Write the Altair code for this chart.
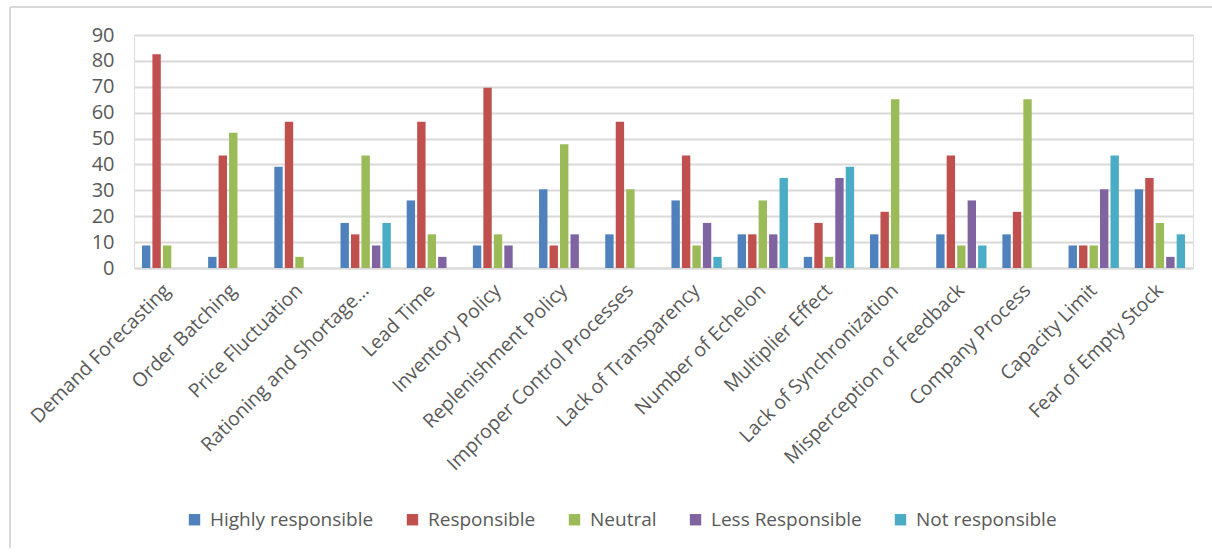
import altair as alt
import pandas as pd

categories = [
    "Demand Forecasting", "Order Batching", "Price Fluctuation",
    "Rationing and Shortage…", "Lead Time", "Inventory Policy",
    "Replenishment Policy", "Improper Control Processes",
    "Lack of Transparency", "Number of Echelon", "Multiplier Effect",
    "Lack of Synchronization", "Misperception of Feedback",
    "Company Process", "Capacity Limit", "Fear of Empty Stock",
]
series = ["Highly responsible", "Responsible", "Neutral",
          "Less Responsible", "Not responsible"]
colors = ["#4F81BD", "#C0504D", "#9BBB59", "#8064A2", "#4BACC6"]

highly = [8.7, 4.3, 39.1, 17.4, 26.1, 8.7, 30.4, 13.0, 26.1, 13.0, 4.3, 13.0, 13.0, 13.0, 8.7, 30.4]
responsible = [82.6, 43.5, 56.5, 13.0, 56.5, 69.6, 8.7, 56.5, 43.5, 13.0, 17.4, 21.7, 43.5, 21.7, 8.7, 34.8]
neutral = [8.7, 52.2, 4.3, 43.5, 13.0, 13.0, 47.8, 30.4, 8.7, 26.1, 4.3, 65.2, 8.7, 65.2, 8.7, 17.4]
less = [0, 0, 0, 8.7, 4.3, 8.7, 13.0, 0, 17.4, 13.0, 34.8, 0, 26.1, 0, 30.4, 4.3]
notresp = [0, 0, 0, 17.4, 0, 0, 0, 0, 4.3, 34.8, 39.1, 0, 8.7, 0, 43.5, 13.0]

rows = []
for s, vals in zip(series, [highly, responsible, neutral, less, notresp]):
    for c, v in zip(categories, vals):
        if v > 0:
            rows.append({"category": c, "series": s, "value": v})
df = pd.DataFrame(rows)

bars = alt.Chart(df).mark_bar().encode(
    x=alt.X("category:N", sort=categories,
            scale=alt.Scale(domain=categories, paddingInner=0.24, paddingOuter=0.12),
            axis=alt.Axis(title=None, labelAngle=-45, labelAlign="right",
                          labelBaseline="middle", labelPadding=19, ticks=False,
                          labelFontSize=19.5, labelFont="Open Sans", labelColor="#595959",
                          domainColor="#d9d9d9", domainWidth=2, grid=False,
                          labelLimit=400)),
    xOffset=alt.XOffset("series:N", sort=series,
                        scale=alt.Scale(domain=series, paddingInner=0.2)),
    y=alt.Y("value:Q", scale=alt.Scale(domain=[0, 90]),
            axis=alt.Axis(title=None, values=list(range(0, 91, 10)), ticks=False,
                          domain=False, labelFontSize=20, labelFont="Open Sans",
                          labelColor="#595959", labelPadding=20,
                          gridColor="#d9d9d9", gridWidth=2)),
    color=alt.Color("series:N", sort=series,
                    scale=alt.Scale(domain=series, range=colors),
                    legend=alt.Legend(title=None, orient="none", direction="horizontal",
                                      legendX=51, legendY=475, symbolType="square",
                                      symbolSize=130, symbolStrokeWidth=0,
                                      labelFontSize=19, labelFont="Open Sans",
                                      labelColor="#595959", columnPadding=29,
                                      labelOffset=6, labelLimit=400)),
)

frame_df = pd.DataFrame({"a": [0]})
top_line = alt.Chart(frame_df).mark_rule(
    stroke="#d9d9d9", strokeWidth=2, clip=False
).encode(x=alt.value(-124), x2=alt.value(1078), y=alt.value(-28))
left_line = alt.Chart(frame_df).mark_rule(
    stroke="#d9d9d9", strokeWidth=2, clip=False
).encode(x=alt.value(-124), y=alt.value(-28), y2=alt.value(520))

chart = alt.layer(top_line, left_line, bars).properties(
    width=1059, height=233,
    autosize=alt.AutoSizeParams(type="none"),
    padding={"left": 134, "top": 35, "right": 19, "bottom": 280},
).configure_view(stroke="transparent", strokeWidth=0).configure(background="white")

chart.save("out.html", embed_options={"renderer": "svg", "actions": False})
